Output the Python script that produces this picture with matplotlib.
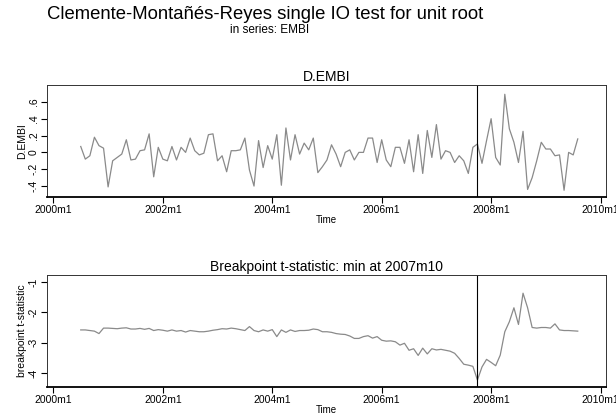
import matplotlib
matplotlib.use("Agg")
import matplotlib.pyplot as plt

plt.rcParams['font.family'] = ['Liberation Sans', 'DejaVu Sans']

# months counted from 2000m1 (0 = 2000m1)
start_month = 6   # 2000m7
break_month = 93  # 2007m10

d_embi = [
    0.07, -0.08, -0.04, 0.18, 0.08, 0.05, -0.41, -0.10, -0.06, -0.02,
    0.15, -0.09, -0.08, 0.02, 0.03, 0.22, -0.29, 0.06, -0.08, -0.10,
    0.07, -0.09, 0.06, 0.00, 0.17, 0.02, -0.03, -0.01, 0.21, 0.22,
    -0.10, -0.04, -0.23, 0.02, 0.02, 0.03, 0.17, -0.21, -0.40, 0.14,
    -0.18, 0.08, -0.08, 0.21, -0.39, 0.29, -0.09, 0.21, -0.02, 0.11,
    0.03, 0.17, -0.24, -0.17, -0.09, 0.09, -0.02, -0.17, 0.00, 0.03,
    -0.09, 0.00, 0.00, 0.17, 0.17, -0.12, 0.15, -0.09, -0.17, 0.06,
    0.06, -0.13, 0.15, -0.23, 0.21, -0.25, 0.26, -0.06, 0.33, -0.08,
    0.02, 0.00, -0.12, -0.04, -0.10, -0.25, 0.06, 0.10, -0.13, 0.14,
    0.40, -0.06, -0.15, 0.69, 0.28, 0.12, -0.12, 0.25, -0.44, -0.30,
    -0.10, 0.12, 0.04, 0.04, -0.04, -0.03, -0.45, 0.00, -0.03, 0.16,
]

tstat = [
    -2.58, -2.58, -2.60, -2.62, -2.70, -2.52, -2.52, -2.53, -2.54, -2.52,
    -2.51, -2.55, -2.55, -2.53, -2.56, -2.53, -2.60, -2.57, -2.59, -2.62,
    -2.58, -2.62, -2.60, -2.65, -2.60, -2.62, -2.64, -2.64, -2.62, -2.59,
    -2.57, -2.54, -2.55, -2.52, -2.54, -2.57, -2.60, -2.47, -2.60, -2.64,
    -2.58, -2.62, -2.57, -2.80, -2.58, -2.66, -2.58, -2.63, -2.60, -2.60,
    -2.59, -2.55, -2.57, -2.64, -2.64, -2.66, -2.70, -2.72, -2.73, -2.78,
    -2.86, -2.86, -2.80, -2.77, -2.85, -2.80, -2.92, -2.95, -2.94, -2.97,
    -3.08, -3.02, -3.25, -3.20, -3.42, -3.18, -3.37, -3.20, -3.24, -3.22,
    -3.25, -3.28, -3.35, -3.52, -3.71, -3.74, -3.78, -4.23, -3.80, -3.55,
    -3.65, -3.76, -3.41, -2.64, -2.31, -1.85, -2.40, -1.37, -1.85, -2.50,
    -2.52, -2.50, -2.50, -2.52, -2.38, -2.58, -2.60, -2.60, -2.61, -2.62,
]

months = list(range(start_month, start_month + len(d_embi)))
tick_pos = [0, 24, 48, 72, 96, 120]
tick_labels = ["2000m1", "2002m1", "2004m1", "2006m1", "2008m1", "2010m1"]

fig = plt.figure(figsize=(6.16, 4.19), dpi=100)
fig.patch.set_facecolor("white")

fig.text(0.431, 0.965, "Clemente-Montañés-Reyes single IO test for unit root",
         ha="center", va="center", fontsize=13.3)
fig.text(0.438, 0.929, "in series: EMBI", ha="center", va="center", fontsize=8.5)

line_col = "#8a8a8a"


def style_axes(ax, ylabel, yticks, ylabels, ylim):
    ax.set_xlim(-1.4, 121.2)
    ax.set_ylim(*ylim)
    ax.set_xticks(tick_pos)
    ax.set_xticklabels(tick_labels, fontsize=7.5)
    ax.set_yticks(yticks)
    ax.set_yticklabels(ylabels, fontsize=7.5, rotation=90, va="center")
    ax.tick_params(direction="out", length=4.5, width=0.8, pad=1.5)
    for s in ax.spines.values():
        s.set_linewidth(0.7)
        s.set_color("#333333")
    ax.spines["bottom"].set_linewidth(1.3)
    ax.spines["bottom"].set_color("black")
    ax.set_ylabel(ylabel, fontsize=7.5, labelpad=1)
    ax.set_xlabel("Time", fontsize=7, labelpad=0)
    ax.axvline(break_month, color="black", lw=0.8)


ax1 = fig.add_axes([0.0763, 0.5298, 0.9075, 0.2673])
ax1.plot(months, d_embi, color=line_col, lw=0.9)
style_axes(ax1, "D.EMBI", [0.6, 0.4, 0.2, 0.0, -0.2, -0.4],
           [".6", ".4", ".2", "0", "-.2", "-.4"], (-0.53, 0.80))
ax1.set_title("D.EMBI", fontsize=10, pad=3)

ax2 = fig.add_axes([0.0763, 0.0764, 0.9075, 0.2673])
ax2.plot(months, tstat, color=line_col, lw=0.9)
style_axes(ax2, "breakpoint t-statistic", [-1, -2, -3, -4],
           ["-1", "-2", "-3", "-4"], (-4.46, -0.77))
ax2.set_title("Breakpoint t-statistic: min at 2007m10", fontsize=10, pad=3)

fig.savefig("out.png", dpi=100, facecolor="white")
